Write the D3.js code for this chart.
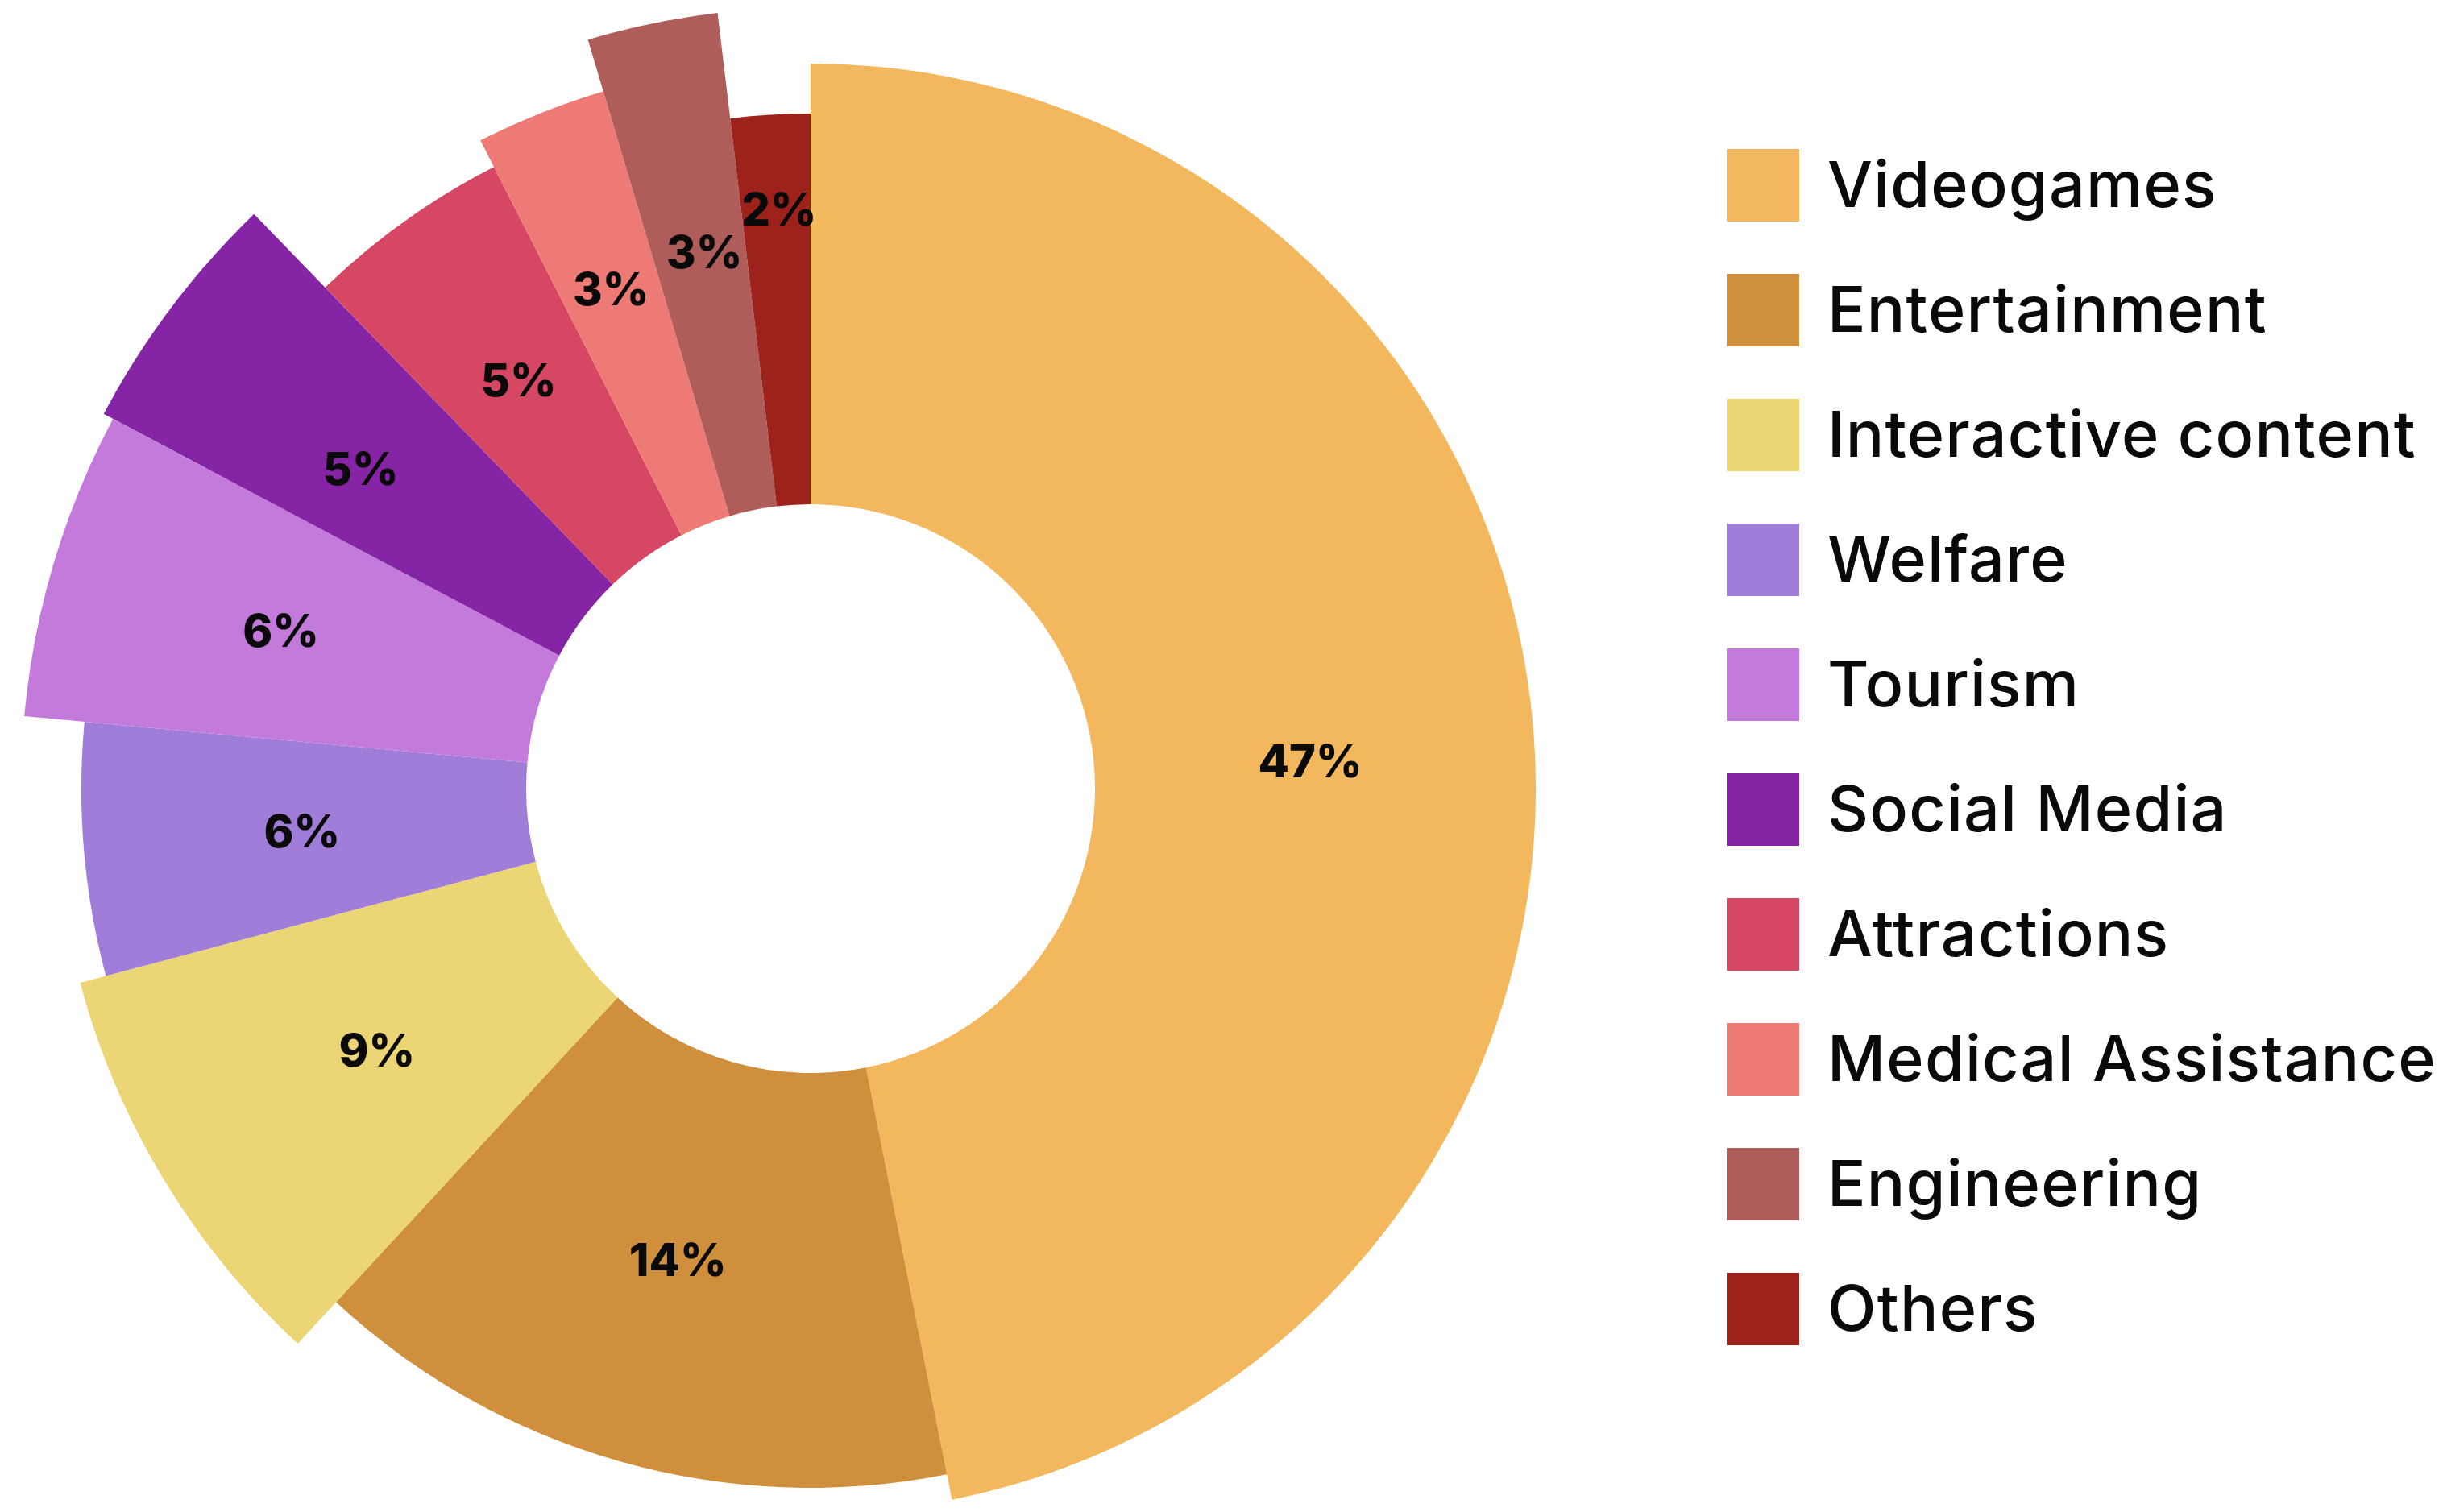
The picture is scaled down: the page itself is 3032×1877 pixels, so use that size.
<!DOCTYPE html>
<html>
<head>
<meta charset="utf-8">
<script src="https://cdn.jsdelivr.net/npm/d3@7"></script>
<style>
  html, body { margin: 0; padding: 0; background: #ffffff; }
  svg { display: block; }
</style>
</head>
<body>
<svg id="chart" width="3032" height="1877"></svg>
<script>
// ---- data ----
const categories = ["Videogames", "Entertainment", "Interactive content", "Welfare", "Tourism",
                    "Social Media", "Attractions", "Medical Assistance", "Engineering", "Others"];
// printed percentages
const pctLabels = ["47%", "14%", "9%", "6%", "6%", "5%", "5%", "3%", "3%", "2%"];
// slice shares
const sliceShares = [46.9, 15.0, 9.0, 5.6, 6.3, 5.0, 4.75, 2.9, 2.7, 1.9];

// ---- styles / layout ----
const colors = ["#F3B85E", "#CF8F3C", "#ECD574", "#A07DD9", "#C47ADB",
                "#8624A6", "#D64763", "#EE7A75", "#AE5D5A", "#9C221B"];
const outerRadii = [900, 868, 938, 905, 980, 993, 866, 903, 970, 838];
// where each percentage label sits: fraction of the slice's outer radius, and a small angle nudge (deg)
const labelRadiusFactor = [0.69, 0.70, 0.67, 0.70, 0.70, 0.69, 0.72, 0.74, 0.70, 0.86];
const labelAngleNudge = [2.5, 0, 0, 0, 0, -1.5, 0, 0, 0.5, 0.3];

const cx = 1006, cy = 979, innerR = 353;
const fontStack = "Inter, 'Noto Sans', 'DejaVu Sans', sans-serif";

const svg = d3.select("#chart");

const data = categories.map((c, i) => ({
  name: c, share: sliceShares[i], label: pctLabels[i], color: colors[i],
  r: outerRadii[i], lf: labelRadiusFactor[i], nudge: labelAngleNudge[i]
}));

const pie = d3.pie().sort(null).value(d => d.share);
const arcs = pie(data);

const arc = d3.arc()
  .innerRadius(innerR)
  .outerRadius(d => d.data.r);

const g = svg.append("g").attr("transform", `translate(${cx},${cy})`);

g.selectAll("path.slice")
  .data(arcs)
  .join("path")
  .attr("class", "slice")
  .attr("d", arc)
  .attr("fill", d => d.data.color);

// percentage labels
const labelFont = 56;
const labelPos = d => {
  const a = (d.startAngle + d.endAngle) / 2 + d.data.nudge * Math.PI / 180;
  const r = d.data.r * d.data.lf;
  return [r * Math.sin(a), -r * Math.cos(a)];
};
g.selectAll("text.pct")
  .data(arcs)
  .join("text")
  .attr("class", "pct")
  .attr("text-anchor", "middle")
  .attr("font-family", fontStack)
  .attr("font-weight", 800)
  .attr("font-size", labelFont)
  .attr("fill", "#0a0a0a")
  .attr("x", d => labelPos(d)[0])
  .attr("y", d => labelPos(d)[1] + labelFont * 0.36)
  .text(d => d.data.label);

// legend
const legendX = 2143, swatch = 90, textX = 2268;
const rowY = d3.scalePoint()
  .domain(categories)
  .range([185, 185 + 9 * 155]);

const legend = svg.append("g").attr("class", "legend");
const rows = legend.selectAll("g.row")
  .data(data)
  .join("g")
  .attr("class", "row")
  .attr("transform", d => `translate(0,${rowY(d.name)})`);

rows.append("rect")
  .attr("x", legendX)
  .attr("y", 0)
  .attr("width", swatch)
  .attr("height", swatch)
  .attr("fill", d => d.color);

rows.append("text")
  .attr("x", textX)
  .attr("y", 72)
  .attr("font-family", fontStack)
  .attr("font-weight", 500)
  .attr("font-size", 79)
  .attr("letter-spacing", 1.2)
  .attr("fill", "#0a0a0a")
  .text(d => d.name);
</script>
</body>
</html>
